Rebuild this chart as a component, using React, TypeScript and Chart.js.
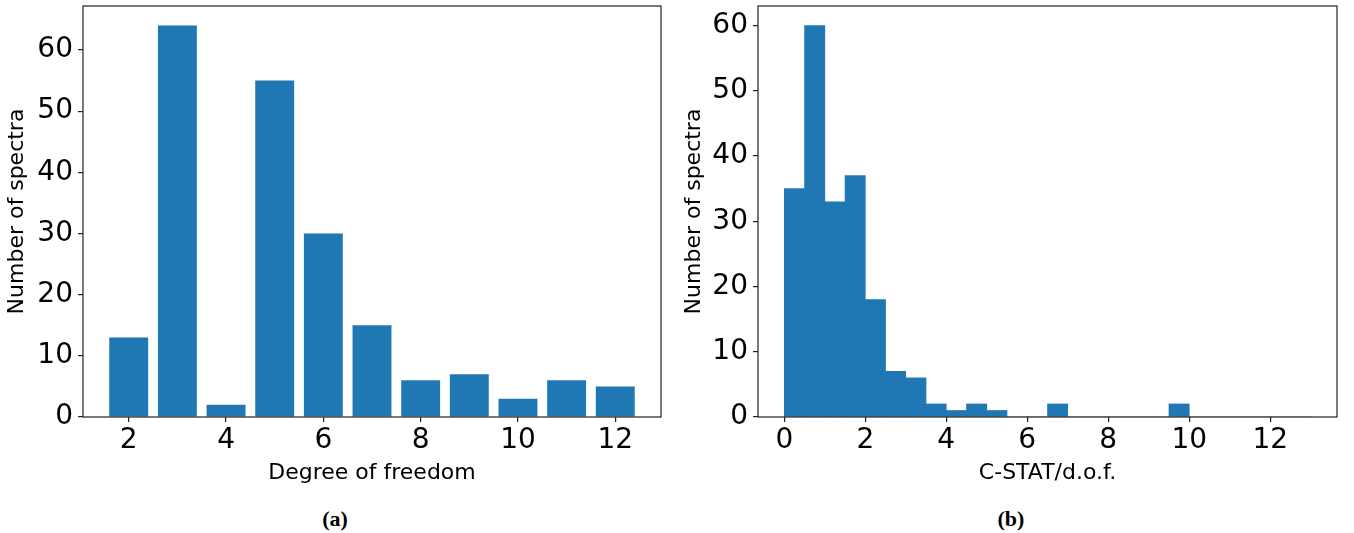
import React, { useEffect, useRef } from "react";
import Chart from "chart.js/auto";

// Panel (a): number of spectra per degree of freedom
const dofValues = [2, 3, 4, 5, 6, 7, 8, 9, 10, 11, 12];
const dofCounts = [13, 64, 2, 55, 30, 15, 6, 7, 3, 6, 5];
const dofTicksX = [2, 4, 6, 8, 10, 12];
const dofTicksY = [0, 10, 20, 30, 40, 50, 60];

// Panel (b): histogram of C-STAT/d.o.f. (bin centres, bin width 0.5)
const cstatBinCenters = [
  0.25, 0.75, 1.25, 1.75, 2.25, 2.75, 3.25, 3.75, 4.25, 4.75, 5.25, 5.75, 6.25,
  6.75, 7.25, 7.75, 8.25, 8.75, 9.25, 9.75, 10.25, 10.75, 11.25, 11.75, 12.25, 12.75,
];
const cstatCounts = [
  35, 60, 33, 37, 18, 7, 6, 2, 1, 2, 1, 0, 0,
  2, 0, 0, 0, 0, 0, 2, 0, 0, 0, 0, 0, 0,
];
const cstatTicksX = [0, 2, 4, 6, 8, 10, 12];
const cstatTicksY = [0, 10, 20, 30, 40, 50, 60];

const BAR_COLOR = "#1f77b4";
const AXIS_COLOR = "#222";
const FONT = "'DejaVu Sans', sans-serif";

const framePlugin = {
  id: "frame",
  afterDatasetsDraw(chart: any) {
    const { ctx, chartArea: a } = chart;
    ctx.save();
    ctx.strokeStyle = AXIS_COLOR;
    ctx.lineWidth = 1.2;
    ctx.strokeRect(a.left, a.top, a.right - a.left, a.bottom - a.top);
    ctx.restore();
  },
};

type PanelProps = {
  xs: number[];
  ys: number[];
  barFraction: number;
  xMin: number;
  xMax: number;
  yMax: number;
  xTicks: number[];
  yTicks: number[];
  xTitle: string;
  yAxisWidth: number;
  rightPad: number;
  left: number;
};

const CANVAS_W = 677;
const CANVAS_H = 500;

function Panel(p: PanelProps) {
  const ref = useRef<HTMLCanvasElement | null>(null);
  useEffect(() => {
    if (!ref.current) return;
    const chart = new Chart(ref.current, {
      type: "bar",
      data: {
        datasets: [
          {
            data: p.xs.map((x, i) => ({ x, y: p.ys[i] })),
            backgroundColor: BAR_COLOR,
            borderWidth: 0,
            barPercentage: p.barFraction,
            categoryPercentage: 1,
          },
        ],
      },
      options: {
        animation: false,
        responsive: false,
        devicePixelRatio: 1,
        layout: { padding: { left: 0, right: p.rightPad, top: 6, bottom: 0 } },
        plugins: { legend: { display: false }, tooltip: { enabled: false } },
        scales: {
          x: {
            type: "linear",
            min: p.xMin,
            max: p.xMax,
            offset: false,
            afterBuildTicks: (s: any) => {
              s.ticks = p.xTicks.map((v) => ({ value: v }));
            },
            afterFit: (s: any) => {
              s.height = CANVAS_H - 417;
              s.paddingLeft = 0;
              s.paddingRight = 0;
            },
            grid: {
              offset: false,
              drawOnChartArea: false,
              drawTicks: true,
              tickLength: 5,
              color: AXIS_COLOR,
              lineWidth: 1.2,
            },
            border: { display: false },
            ticks: {
              font: { family: FONT, size: 28 },
              color: "#000",
              padding: 2,
              maxRotation: 0,
              callback: (v: any) => String(v),
            },
            title: {
              display: true,
              text: p.xTitle,
              font: { family: FONT, size: 22 },
              color: "#000",
              padding: { top: 0, bottom: 14 },
            },
          },
          y: {
            type: "linear",
            min: 0,
            max: p.yMax,
            afterBuildTicks: (s: any) => {
              s.ticks = p.yTicks.map((v) => ({ value: v }));
            },
            afterFit: (s: any) => {
              s.width = p.yAxisWidth;
              s.paddingTop = 0;
              s.paddingBottom = 0;
            },
            grid: {
              drawOnChartArea: false,
              drawTicks: true,
              tickLength: 5,
              color: AXIS_COLOR,
              lineWidth: 1.2,
            },
            border: { display: false },
            ticks: {
              font: { family: FONT, size: 28 },
              color: "#000",
              padding: 5,
              callback: (v: any) => String(v),
            },
            title: {
              display: true,
              text: "Number of spectra",
              font: { family: FONT, size: 22 },
              color: "#000",
              padding: { top: 4, bottom: 0 },
            },
          },
        },
      },
      plugins: [framePlugin],
    });
    return () => chart.destroy();
  }, []);
  return (
    <canvas
      ref={ref}
      width={CANVAS_W}
      height={CANVAS_H}
      style={{ position: "absolute", left: p.left, top: 0, width: CANVAS_W, height: CANVAS_H }}
    />
  );
}

const captionStyle: React.CSSProperties = {
  position: "absolute",
  top: 508,
  fontFamily: "'Liberation Serif', serif",
  fontWeight: "bold",
  fontSize: 22,
  lineHeight: "22px",
  textAlign: "center",
  color: "#000",
};

export default function App() {
  return (
    <div
      style={{
        position: "absolute",
        left: 0,
        top: 0,
        width: 1354,
        height: 533,
        background: "#fff",
        overflow: "hidden",
      }}
    >
      <Panel
        xs={dofValues}
        ys={dofCounts}
        barFraction={0.8}
        xMin={1.06}
        xMax={12.94}
        yMax={67.2}
        xTicks={dofTicksX}
        yTicks={dofTicksY}
        xTitle="Degree of freedom"
        yAxisWidth={83}
        rightPad={16}
        left={0}
      />
      <Panel
        xs={cstatBinCenters}
        ys={cstatCounts}
        barFraction={1}
        xMin={-0.65}
        xMax={13.65}
        yMax={63}
        xTicks={cstatTicksX}
        yTicks={cstatTicksY}
        xTitle="C-STAT/d.o.f."
        yAxisWidth={81}
        rightPad={17}
        left={677}
      />
      <div style={{ ...captionStyle, left: 0, width: 670 }}>(a)</div>
      <div style={{ ...captionStyle, left: 677, width: 668 }}>(b)</div>
    </div>
  );
}
